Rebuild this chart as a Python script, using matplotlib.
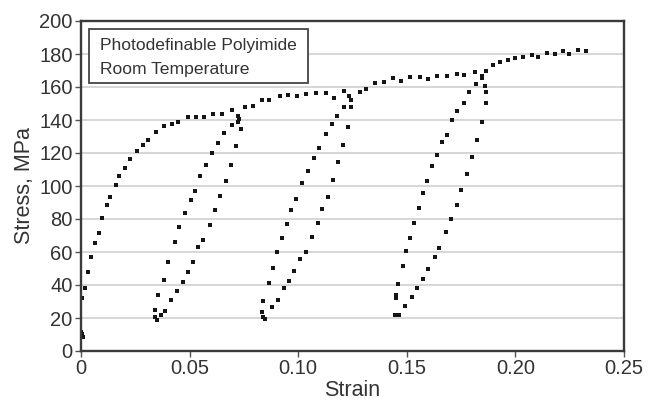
import matplotlib
matplotlib.use("Agg")
import matplotlib.pyplot as plt
from matplotlib import font_manager
from matplotlib.patches import Rectangle

# ---- data (strain, stress MPa) ----
load1_strain = [0.000, 0.0003, 0.0008, 0.0005, 0.0017, 0.0032, 0.0047, 0.0063, 0.0081, 0.0099,
                0.0121, 0.0135, 0.0163, 0.0175, 0.0203, 0.0227, 0.0256, 0.0285, 0.0310, 0.0345,
                0.0380, 0.0417, 0.0445, 0.0492, 0.0529, 0.0568, 0.0608, 0.0651, 0.0694]
load1_stress = [11.5, 10.1, 8.5, 32.1, 38.2, 47.7, 57.1, 65.3, 71.5, 80.6,
                88.5, 93.2, 100.7, 105.9, 110.7, 116.2, 121.0, 125.1, 127.7, 132.5,
                136.2, 137.6, 138.6, 141.6, 141.9, 141.9, 143.9, 143.8, 145.9]

unload1_strain = [0.0721, 0.0726, 0.0723, 0.0737, 0.0712, 0.0691, 0.0667, 0.0638, 0.0615, 0.0592,
                  0.0563, 0.0540, 0.0514, 0.0493, 0.0470, 0.0442, 0.0416, 0.0385, 0.0368, 0.0351,
                  0.0343, 0.0343]
unload1_stress = [142.2, 140.4, 138.6, 134.8, 124.5, 112.8, 103.2, 93.9, 85.5, 76.2,
                  67.3, 62.8, 53.9, 48.1, 41.6, 36.2, 30.7, 24.1, 21.6, 18.6,
                  20.6, 24.7]

reload1_strain = [0.0356, 0.0380, 0.0402, 0.0431, 0.0453, 0.0479, 0.0505, 0.0523, 0.0549, 0.0577,
                  0.0601, 0.0631, 0.0660, 0.0693]
reload1_stress = [34.2, 43.3, 54.2, 66.3, 75.0, 83.9, 91.3, 96.8, 106.3, 112.7,
                  120.0, 125.9, 132.2, 137.1]

load2_strain = [0.0757, 0.0791, 0.0832, 0.0866, 0.0914, 0.0951, 0.0994, 0.1034, 0.1081, 0.1126,
                0.1166, 0.1209]
load2_stress = [147.9, 148.5, 152.4, 152.1, 154.5, 155.2, 154.4, 155.7, 156.4, 156.1,
                153.6, 157.4]

unload2_strain = [0.1236, 0.1244, 0.1244, 0.1228, 0.1208, 0.1183, 0.1158, 0.1135, 0.1111, 0.1089,
                  0.1064, 0.1038, 0.1010, 0.0979, 0.0959, 0.0936, 0.0905, 0.0881, 0.0849, 0.0837,
                  0.0832]
unload2_stress = [154.4, 152.2, 147.7, 135.5, 125.1, 114.4, 103.9, 93.6, 86.3, 77.7,
                  69.2, 59.9, 55.7, 48.6, 42.5, 38.2, 31.2, 26.5, 19.1, 20.6,
                  23.5]

reload2_strain = [0.0839, 0.0866, 0.0883, 0.0902, 0.0925, 0.0947, 0.0969, 0.0991, 0.1017, 0.1043,
                  0.1074, 0.1096, 0.1128, 0.1154, 0.1179, 0.1209]
reload2_stress = [30.1, 41.2, 50.3, 59.8, 68.5, 77.1, 85.3, 92.4, 101.9, 109.3,
                  117.2, 122.8, 131.8, 137.6, 142.7, 147.9]

load3_strain = [0.1283, 0.1314, 0.1354, 0.1395, 0.1436, 0.1475, 0.1517, 0.1561, 0.1598, 0.1637,
                0.1683, 0.1729, 0.1765, 0.1814]
load3_stress = [157.0, 158.6, 162.4, 162.8, 165.3, 163.9, 165.9, 165.9, 164.8, 166.7,
                166.5, 168.1, 167.1, 168.8]

unload3_strain = [0.1847, 0.1847, 0.1858, 0.1863, 0.1863, 0.1845, 0.1821, 0.1798, 0.1775, 0.1748,
                  0.1733, 0.1703, 0.1681, 0.1648, 0.1628, 0.1599, 0.1574, 0.1548, 0.1522, 0.1493,
                  0.1463, 0.1452, 0.1445]
unload3_stress = [166.9, 165.7, 160.7, 157.2, 150.3, 138.5, 127.6, 117.6, 107.0, 97.4,
                  88.5, 80.2, 72.2, 62.4, 57.2, 49.4, 43.9, 38.4, 32.7, 27.4,
                  21.6, 21.6, 21.6]

reload3_strain = [0.1449, 0.1449, 0.1460, 0.1481, 0.1496, 0.1515, 0.1535, 0.1554, 0.1576, 0.1593,
                  0.1617, 0.1637, 0.1663, 0.1683, 0.1706, 0.1733, 0.1762, 0.1786, 0.1817]
reload3_stress = [32.4, 33.8, 40.4, 51.5, 60.5, 68.5, 77.8, 86.8, 96.0, 103.0,
                  111.9, 118.8, 126.9, 131.2, 140.2, 145.3, 150.2, 156.8, 162.1]

load4_strain = [0.1866, 0.1898, 0.1931, 0.1965, 0.1996, 0.2035, 0.2076, 0.2105, 0.2146, 0.2184,
                0.2217, 0.2247, 0.2289, 0.2323]
load4_stress = [169.8, 173.5, 175.4, 176.3, 177.5, 178.2, 179.6, 178.4, 180.7, 179.9,
                181.8, 180.1, 182.5, 181.9]

segments = [
    (load1_strain, load1_stress), (unload1_strain, unload1_stress), (reload1_strain, reload1_stress),
    (load2_strain, load2_stress), (unload2_strain, unload2_stress), (reload2_strain, reload2_stress),
    (load3_strain, load3_stress), (unload3_strain, unload3_stress), (reload3_strain, reload3_stress),
    (load4_strain, load4_stress),
]

x_ticks = [0, 0.05, 0.10, 0.15, 0.20, 0.25]
x_tick_labels = ["0", "0.05", "0.10", "0.15", "0.20", "0.25"]
y_ticks = [0, 20, 40, 60, 80, 100, 120, 140, 160, 180, 200]
box_lines = ["Photodefinable Polyimide", "Room Temperature"]

# ---- fonts ----
avail = {f.name for f in font_manager.fontManager.ttflist}
main_font = "Liberation Sans" if "Liberation Sans" in avail else "DejaVu Sans"
plt.rcParams["font.family"] = [main_font, "DejaVu Sans"]

fig = plt.figure(figsize=(6.49, 4.0), dpi=100)
ax = fig.add_axes([0.1248, 0.1225, 0.8367, 0.825])

for sx, sy in segments:
    ax.plot(sx, sy, linestyle="none", marker="s", markersize=2.7,
            markerfacecolor="#151515", markeredgecolor="#151515", markeredgewidth=0)

ax.set_xlim(0, 0.25)
ax.set_ylim(0, 200)
ax.set_xticks(x_ticks)
ax.set_xticklabels(x_tick_labels)
ax.set_yticks(y_ticks)
ax.yaxis.grid(True, color="#cfcfcf", linewidth=1.2)
ax.set_axisbelow(True)

for s in ax.spines.values():
    s.set_color("#3a3a3a")
    s.set_linewidth(1.7)

ax.tick_params(axis="both", direction="out", length=4, width=1, color="#555555",
               labelsize=14.5, labelcolor="#333333", pad=2)

ax.set_xlabel("Strain", fontsize=15.5, color="#333333", labelpad=1)
ax.set_ylabel("Stress, MPa", fontsize=15.5, color="#333333", labelpad=3)

# annotation box
ax.add_patch(Rectangle((0.0147, 0.812), 0.403, 0.164, transform=ax.transAxes,
                       facecolor="white", edgecolor="#444444", linewidth=1.3, zorder=3))
ax.text(0.035, 0.927, box_lines[0], transform=ax.transAxes, ha="left", va="center",
        fontsize=12.6, color="#333333", zorder=4)
ax.text(0.035, 0.852, box_lines[1], transform=ax.transAxes, ha="left", va="center",
        fontsize=12.6, color="#333333", zorder=4)

fig.savefig("out.png", dpi=100)
